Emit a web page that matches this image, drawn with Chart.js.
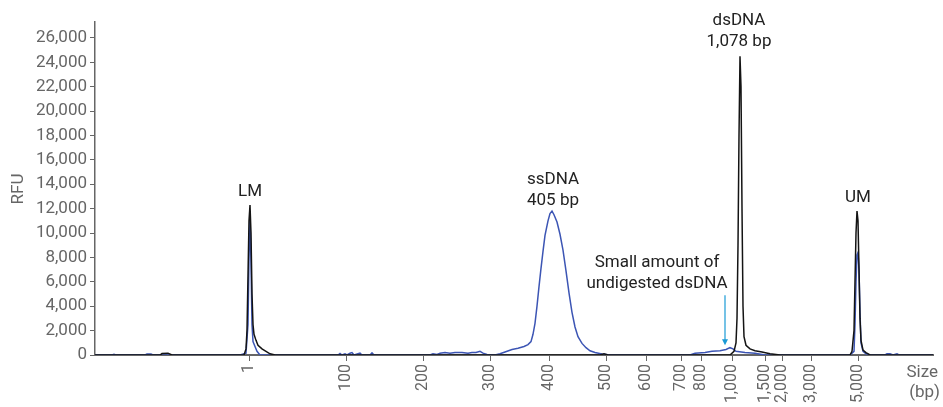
<!DOCTYPE html>
<html>
<head>
<meta charset="utf-8">
<script src="https://cdn.jsdelivr.net/npm/chart.js@4"></script>
<style>
  html, body { margin: 0; padding: 0; background: #fff; }
  #wrap { width: 943px; height: 407px; }
</style>
</head>
<body>
<div id="wrap"><canvas id="epg"></canvas></div>
<script>
// migration position (arbitrary units) and RFU for each trace
const blackX = [95, 160, 162, 168, 172, 244, 246, 247, 248, 249, 250, 251, 252, 253, 254, 256, 258, 262, 266, 270, 275,
  600, 604, 608, 730, 734, 736, 737, 738, 739, 740, 741, 742, 743, 744, 746, 750, 755, 762, 770, 780,
  850, 852, 854, 855, 856, 857, 858, 859, 860, 861, 863, 866, 870, 933];
const blackY = [0, 0, 120, 150, 0, 0, 500, 2000, 6500, 11000, 12300, 10000, 5000, 2500, 1700, 1200, 800, 500, 300, 100, 0,
  0, 100, 0, 0, 300, 1000, 3000, 9000, 18000, 24500, 22000, 12000, 4000, 1500, 800, 500, 350, 250, 100, 0,
  0, 300, 2000, 6000, 10000, 11800, 11000, 7000, 3000, 1200, 400, 200, 0, 0];

const blueX = [95, 112, 114, 116, 145, 147, 151, 153, 240, 246, 248, 249, 250, 251, 252, 253, 255, 257, 260,
  338, 340, 342, 345, 347, 350, 352, 354, 360, 362, 370, 372, 374,
  430, 433, 437, 440, 445, 450, 455, 462, 468, 472, 476, 480, 483, 487, 495, 500, 505, 512, 518, 524,
  528, 531, 533, 535, 537, 539, 541, 543, 545, 548, 550, 552, 554, 557, 560, 563, 566, 569, 572, 575, 578, 582, 586, 590,
  595, 602, 610, 690, 695, 705, 712, 720, 726, 730, 733, 736, 745, 755, 765,
  850, 854, 855, 856, 857, 858, 859, 860, 861, 863, 866, 870, 885, 887, 890, 893, 897, 899, 933];
const blueY = [0, 0, 60, 0, 0, 80, 80, 0, 0, 150, 2500, 8000, 11200, 7500, 2500, 1100, 700, 300, 0,
  0, 120, 0, 100, 0, 150, 200, 0, 150, 0, 0, 180, 0,
  0, 100, 50, 150, 200, 150, 200, 200, 150, 200, 200, 300, 150, 50, 0, 100, 250, 450, 550, 700,
  850, 1100, 1700, 2600, 4000, 5600, 7100, 8500, 9800, 11000, 11600, 11800, 11500, 10900, 9900, 8600, 6900, 5100, 3500, 2300, 1500, 950, 600, 350,
  200, 80, 0, 0, 150, 200, 300, 350, 450, 600, 500, 300, 200, 150, 0,
  0, 300, 2500, 6000, 8200, 8400, 7000, 3500, 1000, 300, 100, 0, 0, 100, 100, 0, 100, 0, 0];

// size ladder ticks: migration position and label
const sizePos = [249, 346, 423, 490, 549, 606, 646, 681, 701, 732, 765, 782, 811, 858];
const sizeLabels = ["1", "100", "200", "300", "400", "500", "600", "700", "800", "1,000", "1,500", "2,000", "3,000", "5,000"];

// RFU ticks
const rfuTicks = [0, 2000, 4000, 6000, 8000, 10000, 12000, 14000, 16000, 18000, 20000, 22000, 24000, 26000];

// peak callouts: text lines, position, RFU of first line
const noteText = [["LM"], ["ssDNA", "405 bp"], ["Small amount of", "undigested dsDNA"], ["dsDNA", "1,078 bp"], ["UM"]];
const noteX = [250, 553, 657, 739, 858];
const noteY = [13400, 14350, 7550, 27400, 12900];

const arrowX = 725;
const arrowFrom = 4900;
const arrowTo = 800;

const grey = "#666666";

function toPoints(xs, ys) {
  return xs.map((x, i) => ({ x: x, y: ys[i] }));
}

const notesPlugin = {
  id: "notes",
  afterDraw(chart) {
    const ctx = chart.ctx;
    const x = chart.scales.x;
    const y = chart.scales.y;
    ctx.save();
    ctx.font = "17px Roboto";
    ctx.fillStyle = "#222222";
    ctx.textAlign = "center";
    ctx.textBaseline = "middle";
    noteText.forEach((lines, i) => {
      const px = x.getPixelForValue(noteX[i]);
      const py = y.getPixelForValue(noteY[i]);
      lines.forEach((t, j) => ctx.fillText(t, px, py + j * 21));
    });

    // arrow
    const ax = x.getPixelForValue(arrowX);
    const y1 = y.getPixelForValue(arrowFrom);
    const y2 = y.getPixelForValue(arrowTo);
    ctx.strokeStyle = "#1a9ad6";
    ctx.fillStyle = "#1a9ad6";
    ctx.lineWidth = 1.2;
    ctx.beginPath();
    ctx.moveTo(ax, y1);
    ctx.lineTo(ax, y2 - 4);
    ctx.stroke();
    ctx.beginPath();
    ctx.moveTo(ax - 3, y2 - 6);
    ctx.lineTo(ax + 3, y2 - 6);
    ctx.lineTo(ax, y2);
    ctx.closePath();
    ctx.fill();

    // axis titles
    ctx.fillStyle = grey;
    ctx.font = "17px Roboto";
    ctx.save();
    ctx.translate(19, 189);
    ctx.rotate(-Math.PI / 2);
    ctx.fillText("RFU", 0, 0);
    ctx.restore();
    ctx.textAlign = "right";
    ctx.fillText("Size", 938, 373);
    ctx.fillText("(bp)", 940, 393);
    ctx.restore();
  }
};

document.addEventListener("DOMContentLoaded", function () {
  const ctx = document.getElementById("epg").getContext("2d");

  new Chart(ctx, {
    type: "line",
    data: {
      datasets: [
        {
          label: "Undigested",
          data: toPoints(blackX, blackY),
          borderColor: "#141414",
          borderWidth: 1.5,
          pointRadius: 0,
          tension: 0,
        },
        {
          label: "Digested",
          data: toPoints(blueX, blueY),
          borderColor: "#3c55b4",
          borderWidth: 1.5,
          pointRadius: 0,
          tension: 0,
        },
      ],
    },
    options: {
      responsive: true,
      maintainAspectRatio: false,
      animation: false,
      locale: "en-US",
      layout: { padding: { top: 22, right: 10, left: 0, bottom: 0 } },
      plugins: {
        legend: { display: false },
        tooltip: { enabled: false },
      },
      scales: {
        x: {
          type: "linear",
          min: 95,
          max: 933,
          afterBuildTicks: function (scale) {
            scale.ticks = sizePos.map((v) => ({ value: v }));
          },
          afterFit: function (scale) {
            scale.height = 52;
          },
          grid: { drawOnChartArea: false, color: grey, tickLength: 6 },
          border: { color: grey, width: 2 },
          ticks: {
            autoSkip: false,
            minRotation: 90,
            maxRotation: 90,
            color: grey,
            font: { family: "Roboto", size: 16 },
            padding: 3,
            callback: function (v, i) {
              return sizeLabels[i];
            },
          },
        },
        y: {
          min: 0,
          max: 27300,
          afterBuildTicks: function (scale) {
            scale.ticks = rfuTicks.map((v) => ({ value: v }));
          },
          afterFit: function (scale) {
            scale.width = 95;
          },
          grid: { drawOnChartArea: false, color: grey, tickLength: 5 },
          border: { color: grey, width: 1.5 },
          ticks: {
            autoSkip: false,
            color: grey,
            font: { family: "Roboto", size: 17 },
            padding: 3,
          },
        },
      },
    },
    plugins: [notesPlugin],
  });
});
</script>
</body>
</html>
